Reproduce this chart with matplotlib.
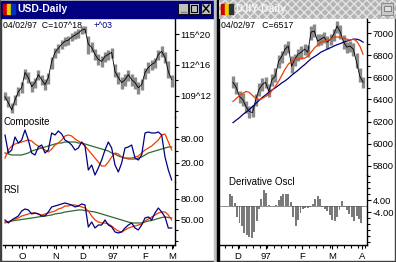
import numpy as np
import matplotlib
matplotlib.use("Agg")
import matplotlib.pyplot as plt
from matplotlib.patches import Rectangle

# ---- USD daily (left window) ----
usd_close = [109.27, 108.66, 107.94, 108.96, 109.78, 110.19, 111.73, 111.22, 110.29, 110.70,
             111.52, 111.01, 110.50, 111.22, 112.86, 113.78, 114.19, 114.60, 114.91, 115.01,
             115.32, 115.52, 115.73, 116.04, 116.14, 114.60, 114.29, 113.57, 113.06, 112.86,
             113.37, 113.57, 113.78, 111.83, 111.22, 110.70, 111.01, 111.52, 111.01, 110.70,
             110.19, 110.50, 111.73, 112.24, 112.55, 112.75, 113.57, 113.88, 113.27, 111.83, 111.01]
usd_hi = [109.8, 109.3, 108.6, 109.5, 110.3, 110.8, 112.1, 111.8, 110.9, 111.2,
          112.0, 111.5, 111.1, 111.7, 113.3, 114.2, 114.6, 115.0, 115.3, 115.4,
          115.7, 115.9, 116.1, 116.4, 116.5, 115.4, 114.8, 114.1, 113.6, 113.4,
          113.8, 114.0, 114.2, 112.6, 111.8, 111.3, 111.6, 112.0, 111.6, 111.3,
          110.8, 111.1, 112.2, 112.8, 113.0, 113.2, 114.0, 114.4, 113.8, 112.9, 111.5]
usd_lo = [108.9, 108.2, 107.6, 108.4, 109.3, 109.7, 111.1, 110.7, 109.8, 110.2,
          111.0, 110.5, 110.0, 110.6, 112.1, 113.2, 113.7, 114.1, 114.4, 114.5,
          114.9, 115.1, 115.2, 115.6, 115.7, 113.6, 113.8, 113.0, 112.5, 112.3,
          112.8, 113.0, 113.2, 111.3, 110.6, 110.1, 110.4, 110.9, 110.4, 110.1,
          109.6, 110.0, 111.1, 111.7, 112.0, 112.2, 113.0, 113.3, 112.7, 111.2, 110.3]

comp_line = [90, 45, 52.5, 85, 70, 77.5, 102.5, 77.5, 45, 40,
             60, 65, 45, 52.5, 95, 90, 100, 92.5, 77.5, 72.5,
             65, 52.5, 57.5, 72.5, 62.5, 2.5, 15, -10, 7.5, 27.5,
             52.5, 72.5, 57.5, 15, -2.5, 20, 57.5, 60, 65, 32.5,
             27.5, 40, 95, 97.5, 95, 95, 97.5, 90, 35, 2.5, -22.5]
comp_fast = [32.5, 52.5, 62.5, 67.5, 70, 72.5, 75, 77.5, 75, 67.5,
             62.5, 57.5, 52.5, 47.5, 55, 65, 70, 77.5, 87.5, 90,
             87.5, 80, 75, 70, 62.5, 52.5, 42.5, 32.5, 22.5, 12.5,
             12.5, 22.5, 35, 45, 42.5, 35, 32.5, 32.5, 32.5, 35,
             37.5, 45, 52.5, 57.5, 62.5, 70, 77.5, 90, 92.5, 72.5, 52.5]
comp_slow = [45, 42.5, 40, 40, 40, 40, 42.5, 45, 50, 52.5,
             55, 57.5, 60, 62.5, 65, 67.5, 70, 70, 72.5, 72.5,
             72.5, 72.5, 70, 70, 67.5, 65, 62.5, 60, 57.5, 55,
             52.5, 50, 45, 42.5, 37.5, 35, 32.5, 30, 30, 30,
             32.5, 35, 40, 45, 47.5, 50, 52.5, 55, 57.5, 60, 60]

rsi_line = [50.0, 45.7, 50.0, 52.8, 55.7, 62.8, 65.7, 64.3, 58.6, 60.0,
            58.6, 55.7, 55.7, 61.4, 68.6, 70.0, 71.4, 72.9, 74.3, 72.9,
            71.4, 68.6, 70.0, 72.9, 71.4, 40.0, 47.1, 38.5, 42.8, 42.8,
            50.0, 42.8, 40.0, 32.8, 31.4, 32.8, 38.5, 42.8, 45.7, 38.5,
            35.7, 42.8, 52.8, 54.3, 50.0, 60.0, 67.1, 61.4, 54.3, 38.5, 38.5]
rsi_fast = [45.7, 47.1, 48.5, 51.4, 52.8, 55.7, 57.1, 58.6, 60.0, 60.0,
            58.6, 57.1, 58.6, 60.0, 61.4, 62.8, 65.7, 67.1, 70.0, 70.0,
            71.4, 71.4, 70.0, 68.6, 67.1, 62.8, 55.7, 50.0, 47.1, 45.7,
            45.7, 44.3, 41.4, 37.1, 34.2, 32.8, 35.7, 38.5, 40.0, 41.4,
            42.8, 44.3, 48.5, 51.4, 54.3, 57.1, 60.0, 61.4, 61.4, 57.1, 50.0]
rsi_slow = [47.1, 47.8, 48.5, 49.3, 50.0, 50.7, 51.4, 52.1, 52.8, 53.5,
            54.3, 55.0, 55.7, 56.4, 57.1, 58.6, 59.3, 60.0, 61.4, 62.1,
            62.8, 63.5, 64.3, 64.3, 63.5, 62.8, 62.1, 61.4, 60.0, 58.6,
            57.1, 55.7, 54.3, 52.8, 51.4, 50.0, 48.5, 47.1, 45.7, 45.7,
            45.7, 45.7, 47.1, 48.5, 49.3, 50.7, 52.1, 53.5, 54.3, 53.5, 52.8]

usd_months = ["O", "N", "D", "97", "F", "M"]
usd_month_pos = [5.1, 15.3, 23.4, 32.4, 42.0, 50.1]

# ---- DJIY daily (right window) ----
dj_close = [6555, 6509, 6427, 6400, 6336, 6291, 6282, 6400, 6491, 6536,
            6555, 6473, 6582, 6609, 6745, 6791, 6855, 6882, 6700, 6764,
            6809, 6827, 6855, 6827, 7009, 7018, 6927, 6945, 6964, 6918,
            6945, 6991, 7064, 7009, 6918, 6873, 6882, 6855, 6736, 6609, 6555]
dj_hi = [6610, 6560, 6480, 6460, 6390, 6340, 6350, 6450, 6550, 6590,
         6600, 6540, 6630, 6680, 6800, 6840, 6900, 6930, 6790, 6810,
         6860, 6880, 6900, 6890, 7060, 7080, 6990, 6990, 7010, 6970,
         6990, 7040, 7110, 7070, 6980, 6920, 6930, 6910, 6820, 6680, 6600]
dj_lo = [6500, 6450, 6370, 6340, 6280, 6230, 6240, 6340, 6430, 6480,
         6500, 6420, 6520, 6560, 6680, 6730, 6800, 6820, 6640, 6700,
         6750, 6770, 6800, 6780, 6940, 6960, 6880, 6890, 6910, 6860,
         6890, 6930, 7000, 6950, 6860, 6820, 6830, 6790, 6680, 6560, 6500]
dj_ma_fast = [6382, 6409, 6436, 6455, 6473, 6464, 6436, 6409, 6400, 6409,
              6427, 6445, 6482, 6518, 6564, 6618, 6673, 6718, 6745, 6764,
              6764, 6773, 6773, 6791, 6827, 6864, 6891, 6918, 6927, 6936,
              6945, 6964, 6964, 6964, 6955, 6945, 6936, 6945, 6927, 6882, 6809]
dj_ma_slow = [6191, 6214, 6236, 6264, 6286, 6309, 6336, 6364, 6391, 6418,
              6441, 6464, 6486, 6505, 6527, 6550, 6568, 6591, 6618, 6641,
              6664, 6691, 6714, 6741, 6768, 6786, 6805, 6827, 6841, 6855,
              6868, 6882, 6895, 6905, 6918, 6927, 6936, 6945, 6945, 6936, 6918]
deriv_osc = [8, 7, 2, -7, -11, -13, -18, -19.5, -20.5, -21,
             -17, -10, -2, 5, 11, 9, 1, 0.3, 0.3, 0.5,
             4, 7, 8, 8, 8, 3, -7.5, -13.5, -9, -4.5,
             -2, -1.2, -1, -0.8, 1.5, 5, 7, 4.7, -0.5, -2,
             -3.5, -6, -9, -9.8, -7, -2.5, 3.5, -0.5, -2.5, -5,
             -7.5, -9.8, -6.5, -8.5, -11]
dj_months = ["D", "97", "F", "M", "A"]
dj_month_pos = [1.5, 10.2, 21.2, 30.5, 39.7]

W, H = 396, 262
plt.rcParams['font.family'] = ['Liberation Sans', 'DejaVu Sans']
plt.rcParams['font.size'] = 6.5

NAVY = "#000080"
RED = "#f03c00"
GREEN = "#2f6a2f"
BAR = "#8a8a8a"

fig = plt.figure(figsize=(W / 100, H / 100), dpi=100)
fig.patch.set_facecolor("white")


def px_axes(x0, y0, x1, y1):
    return fig.add_axes([x0 / W, 1 - y1 / H, (x1 - x0) / W, (y1 - y0) / H])


# window chrome
bg = px_axes(0, 0, W, H)
bg.set_xlim(0, W)
bg.set_ylim(H, 0)
bg.axis("off")
bg.add_patch(Rectangle((0, 0), 1.2, H, color="#404040"))
bg.add_patch(Rectangle((0, 260.5), W, 1.5, color="#404040"))
bg.add_patch(Rectangle((394.5, 0), 1.5, H, color="#404040"))
bg.add_patch(Rectangle((1, 0), 214, 1, color="#c0c0c0"))
bg.add_patch(Rectangle((1, 1), 213, 17, color=NAVY))
bg.add_patch(Rectangle((214, 0), 2.5, H, color="#c0c0c0"))
bg.add_patch(Rectangle((216.5, 0), 2, H, color="black"))
bg.add_patch(Rectangle((218.5, 0), 177, 18.5, facecolor="#b4b4b4", edgecolor="#e4e4e4",
                       hatch="xxxx", lw=0))
# icons
for x0, c in [(3, "#d00000"), (7, "#f0d000"), (11, "#0030c0")]:
    bg.add_patch(Rectangle((x0, 4), 3.5, 10, color=c))
for x0, c in [(221, "#d00000"), (225, "#f0d000"), (229, "#303030")]:
    bg.add_patch(Rectangle((x0, 4), 3.5, 10, color=c))
bg.text(17, 9.5, "USD-Daily", color="white", fontsize=7.5, fontweight="bold", va="center")
bg.text(235, 9.5, "DJIY-Daily", color="#f4f4f4", fontsize=7.5, fontweight="bold", va="center")
# title bar buttons
for x0 in [178, 188.5, 201]:
    bg.add_patch(Rectangle((x0, 3), 10, 11, facecolor="#c0c0c0", edgecolor="black", lw=0.6))
bg.plot([180.5, 185.5], [11.5, 11.5], color="#808080", lw=1)
bg.add_patch(Rectangle((190.5, 5), 6, 6.5, facecolor="none", edgecolor="black", lw=0.8))
bg.plot([203, 209], [5, 12], color="black", lw=1)
bg.plot([203, 209], [12, 5], color="black", lw=1)
bg.add_patch(Rectangle((381, 3), 12, 12, facecolor="#c8c8c8", edgecolor="#808080", lw=0.6))
bg.add_patch(Rectangle((383.5, 5.5), 7, 5, facecolor="#e0e0e0", edgecolor="#707070", lw=0.6))

# header texts
bg.text(3, 25, "04/02/97  C=107^18", fontsize=6.3, va="center")
bg.text(94, 25, "+^03", fontsize=6.3, va="center", color=NAVY)
bg.text(221, 25, "04/02/97   C=6517", fontsize=6.3, va="center")


def style(ax, xlim, bottom=False):
    ax.set_xlim(*xlim)
    ax.patch.set_alpha(0)
    for s in ["top", "left"]:
        ax.spines[s].set_visible(False)
    ax.spines["right"].set_linewidth(1.0)
    ax.spines["bottom"].set_visible(bottom)
    ax.spines["bottom"].set_linewidth(1.0)
    ax.yaxis.tick_right()
    ax.tick_params(axis="y", which="both", direction="out", length=3, width=0.8,
                   pad=1, labelsize=6.8)
    ax.tick_params(axis="y", which="minor", length=2)
    if bottom:
        ax.tick_params(axis="x", which="both", direction="out", length=3, width=0.8,
                       pad=2, labelsize=6.8)
        ax.tick_params(axis="x", which="minor", length=2)
    else:
        ax.set_xticks([])


# ---- left panels ----
k = np.arange(len(usd_close))
lxlim = (-0.6, 51.0)

ax1 = px_axes(3, 19, 175, 117)
ax1.vlines(k, usd_lo, usd_hi, color=BAR, lw=2.4)
ax1.plot(k, usd_close, color="black", lw=0.6)
ax1.set_ylim(107.22, 117.16)
ax1.set_yticks([109.375, 112.5, 115.625], ["109^12", "112^16", "115^20"])
ax1.set_yticks([107.8125, 110.9375, 114.0625], minor=True)
style(ax1, lxlim)

ax2 = px_axes(3, 117, 175, 182)
ax2.plot(k, comp_slow, color=GREEN, lw=0.9)
ax2.plot(k, comp_fast, color=RED, lw=0.9)
ax2.plot(k, comp_line, color=NAVY, lw=0.9)
ax2.set_ylim(-27.5, 135)
ax2.set_yticks([20, 80], ["20.00", "80.00"])
ax2.set_yticks([-10, 50, 110], minor=True)
style(ax2, lxlim)
ax2.text(0, 0.92, "Composite", transform=ax2.transAxes, fontsize=7, va="center")

ax3 = px_axes(3, 182, 175, 245)
ax3.plot(k, rsi_slow, color=GREEN, lw=0.9)
ax3.plot(k, rsi_fast, color=RED, lw=0.9)
ax3.plot(k, rsi_line, color=NAVY, lw=0.9)
ax3.set_ylim(14.2, 104.3)
ax3.set_yticks([50, 80], ["50.00", "80.00"])
ax3.set_yticks([20, 35, 65, 95], minor=True)
style(ax3, lxlim, bottom=True)
ax3.set_xticks(usd_month_pos, usd_months)
ax3.set_xticks(np.arange(0.0, 51.0, 2.1), minor=True)
ax3.text(0, 0.87, "RSI", transform=ax3.transAxes, fontsize=7, va="center")

# ---- right panels ----
i = np.arange(len(dj_close))
rxlim = (-4.0, 41.2)

ax4 = px_axes(220, 19, 367, 175)
ax4.vlines(i, dj_lo, dj_hi, color=BAR, lw=2.4)
ax4.plot(i, dj_close, color="black", lw=0.6)
ax4.plot(i, dj_ma_slow, color=NAVY, lw=0.9)
ax4.plot(i, dj_ma_fast, color=RED, lw=0.9)
ax4.set_ylim(5718, 7127)
ax4.set_yticks(np.arange(5800, 7001, 200))
ax4.set_yticks(np.arange(5800, 7101, 100), minor=True)
style(ax4, rxlim)

ax5 = px_axes(220, 175, 367, 245)
j = np.arange(len(deriv_osc)) * 0.75 - 1.0
ax5.bar(j, deriv_osc, width=0.6, color="#7a7a7a", lw=0)
ax5.axhline(0, color="#606060", lw=0.5)
ax5.set_ylim(-26, 20.7)
ax5.set_yticks([-4, 4], ["-4.00", "4.00"])
ax5.set_yticks([-24, -20, -16, -12, -8, 8, 12, 16, 20], minor=True)
style(ax5, rxlim, bottom=True)
ax5.set_xticks(dj_month_pos, dj_months)
ax5.set_xticks(np.arange(-2.4, 41.0, 2.15), minor=True)
ax5.text(0.06, 0.9, "Derivative Oscl", transform=ax5.transAxes, fontsize=7, va="center")

fig.savefig("out.png", dpi=100)
